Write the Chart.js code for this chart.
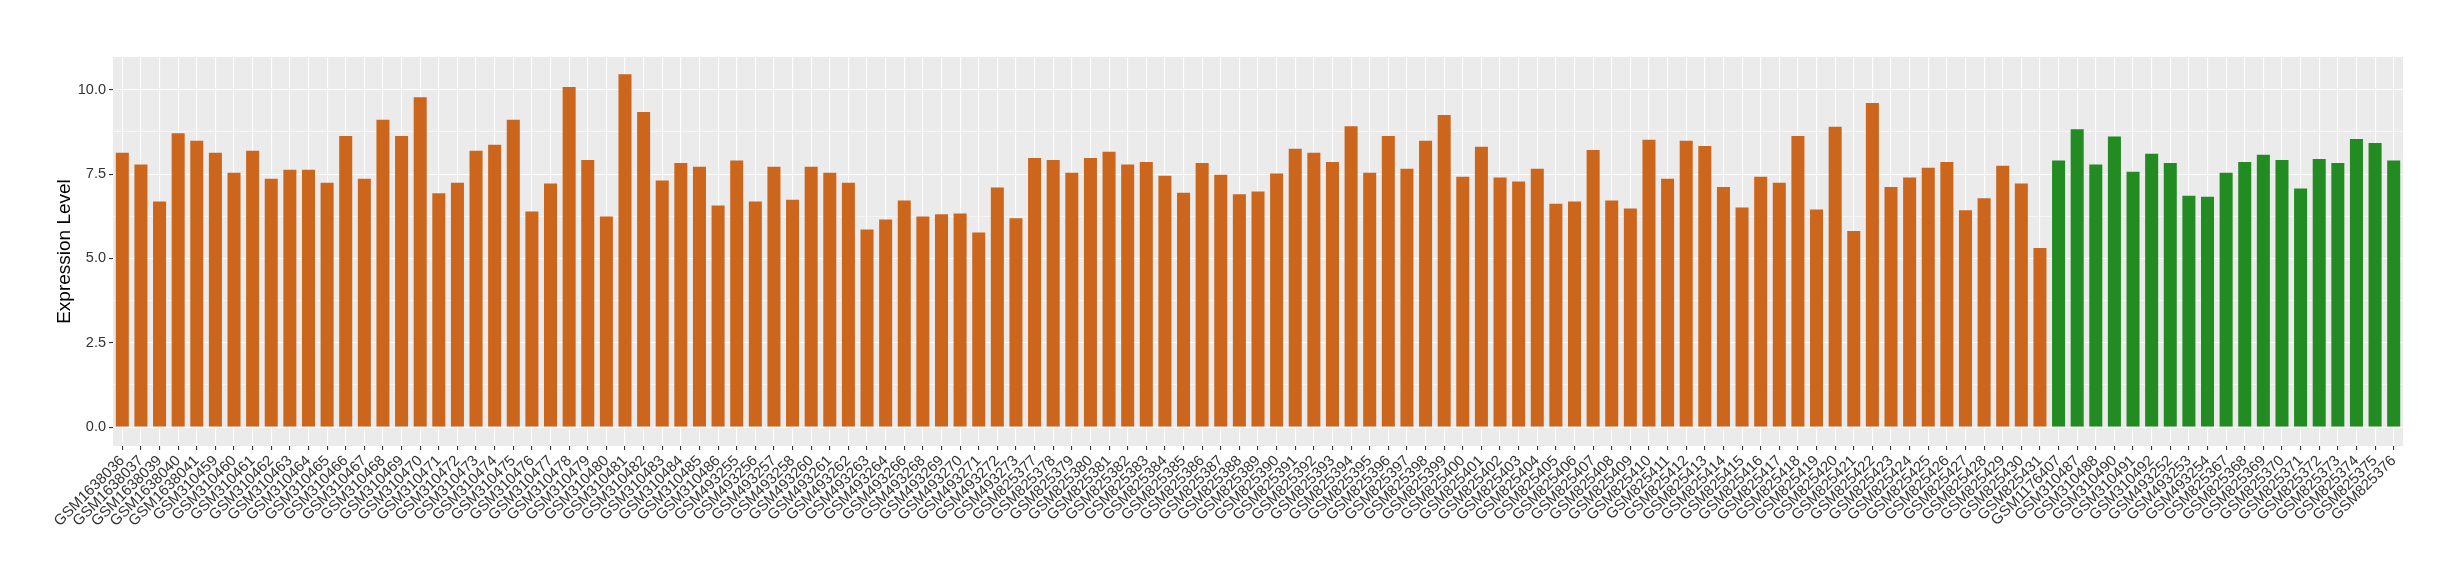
<!DOCTYPE html>
<html>
<head>
<meta charset="utf-8">
<title>Expression Level</title>
<script src="https://cdn.jsdelivr.net/npm/chart.js@4.4.1/dist/chart.umd.min.js"></script>
<style>
  html, body { margin: 0; padding: 0; background: #ffffff; }
</style>
</head>
<body>
<canvas id="chart-bar" width="2460" height="580"></canvas>
<script>
// samples shown in orange (first group)
var orangeSamples = [
  "GSM1638036", "GSM1638037", "GSM1638039", "GSM1638040", "GSM1638041",
  "GSM310459", "GSM310460", "GSM310461", "GSM310462", "GSM310463", "GSM310464", "GSM310465",
  "GSM310466", "GSM310467", "GSM310468", "GSM310469", "GSM310470", "GSM310471", "GSM310472",
  "GSM310473", "GSM310474", "GSM310475", "GSM310476", "GSM310477", "GSM310478", "GSM310479",
  "GSM310480", "GSM310481", "GSM310482", "GSM310483", "GSM310484", "GSM310485", "GSM310486",
  "GSM493255", "GSM493256", "GSM493257", "GSM493258", "GSM493260", "GSM493261", "GSM493262",
  "GSM493263", "GSM493264", "GSM493266", "GSM493268", "GSM493269", "GSM493270", "GSM493271",
  "GSM493272", "GSM493273",
  "GSM825377", "GSM825378", "GSM825379", "GSM825380", "GSM825381", "GSM825382", "GSM825383",
  "GSM825384", "GSM825385", "GSM825386", "GSM825387", "GSM825388", "GSM825389", "GSM825390",
  "GSM825391", "GSM825392", "GSM825393", "GSM825394", "GSM825395", "GSM825396", "GSM825397",
  "GSM825398", "GSM825399", "GSM825400", "GSM825401", "GSM825402", "GSM825403", "GSM825404",
  "GSM825405", "GSM825406", "GSM825407", "GSM825408", "GSM825409", "GSM825410", "GSM825411",
  "GSM825412", "GSM825413", "GSM825414", "GSM825415", "GSM825416", "GSM825417", "GSM825418",
  "GSM825419", "GSM825420", "GSM825421", "GSM825422", "GSM825423", "GSM825424", "GSM825425",
  "GSM825426", "GSM825427", "GSM825428", "GSM825429", "GSM825430", "GSM825431"
];
var orangeValues = [
  8.13, 7.78, 6.69, 8.71, 8.49,
  8.13, 7.54, 8.19, 7.36, 7.63, 7.63, 7.24,
  8.63, 7.36, 9.11, 8.63, 9.78, 6.93, 7.24,
  8.19, 8.37, 9.11, 6.39, 7.22, 10.08, 7.92,
  6.24, 10.46, 9.34, 7.31, 7.83, 7.72, 6.57,
  7.90, 6.69, 7.72, 6.74, 7.72, 7.54, 7.24,
  5.86, 6.15, 6.72, 6.24, 6.31, 6.33, 5.77,
  7.10, 6.19,
  7.98, 7.92, 7.54, 7.98, 8.16, 7.78, 7.86,
  7.45, 6.95, 7.83, 7.48, 6.90, 6.98, 7.52,
  8.25, 8.13, 7.86, 8.92, 7.54, 8.63, 7.66,
  8.49, 9.25, 7.42, 8.31, 7.40, 7.28, 7.66,
  6.62, 6.69, 8.21, 6.72, 6.48, 8.52, 7.36,
  8.49, 8.33, 7.12, 6.51, 7.42, 7.24, 8.63,
  6.45, 8.90, 5.81, 9.61, 7.12, 7.40, 7.69,
  7.86, 6.43, 6.78, 7.75, 7.22, 5.31
];

// samples shown in green (second group)
var greenSamples = [
  "GSM1176407", "GSM310487", "GSM310488", "GSM310490", "GSM310491", "GSM310492",
  "GSM493252", "GSM493253", "GSM493254",
  "GSM825367", "GSM825368", "GSM825369", "GSM825370", "GSM825371", "GSM825372",
  "GSM825373", "GSM825374", "GSM825375", "GSM825376"
];
var greenValues = [
  7.90, 8.83, 7.78, 8.61, 7.57, 8.10,
  7.83, 6.86, 6.83,
  7.54, 7.86, 8.07, 7.92, 7.07, 7.95,
  7.83, 8.54, 8.42, 7.90
];

var yTickLabels = [0, 2.5, 5, 7.5, 10];
var yMinorTicks = [1.25, 3.75, 6.25, 8.75];

var orange = "#CD661D";
var green = "#228B22";
var fontFamily = "'Liberation Sans', Arial, Helvetica, sans-serif";

var labels = orangeSamples.concat(greenSamples);
var values = orangeValues.concat(greenValues);
var colors = orangeSamples.map(function() { return orange; })
  .concat(greenSamples.map(function() { return green; }));

function isMajor(v) {
  return yTickLabels.indexOf(v) !== -1;
}

// grey ggplot-style panel behind the grid
var panelBackground = {
  id: "panelBackground",
  beforeDraw: function(chart) {
    var a = chart.chartArea;
    var c = chart.ctx;
    c.save();
    c.fillStyle = "#EBEBEB";
    c.fillRect(a.left, a.top, a.right - a.left, a.bottom - a.top);
    c.restore();
  }
};

var ctx = document.getElementById("chart-bar");

var myChart = new Chart(ctx, {
  type: "bar",
  data: {
    labels: labels,
    datasets: [{
      data: values,
      backgroundColor: colors,
      borderWidth: 0,
      barPercentage: 0.7,
      categoryPercentage: 1.0
    }]
  },
  options: {
    responsive: false,
    devicePixelRatio: 1,
    animation: false,
    layout: {
      padding: { left: 49, right: 57, top: 57, bottom: 0 }
    },
    plugins: {
      legend: { display: false },
      tooltip: { enabled: false }
    },
    scales: {
      x: {
        offset: true,
        border: { display: false },
        grid: {
          offset: false,
          color: "#FFFFFF",
          lineWidth: 1.1,
          tickColor: "#333333",
          tickWidth: 1.1,
          tickLength: 4
        },
        ticks: {
          autoSkip: false,
          minRotation: 45,
          maxRotation: 45,
          padding: 2,
          color: "#333333",
          font: { family: fontFamily, size: 15 }
        },
        afterFit: function(scale) {
          scale.height = 134;
        }
      },
      y: {
        min: -0.56,
        max: 10.97,
        border: { display: false },
        afterBuildTicks: function(scale) {
          scale.ticks = yTickLabels.concat(yMinorTicks)
            .sort(function(a, b) { return a - b; })
            .map(function(v) { return { value: v }; });
        },
        grid: {
          color: "#FFFFFF",
          lineWidth: function(c) {
            return c.tick && isMajor(c.tick.value) ? 1.1 : 0.55;
          },
          tickColor: function(c) {
            return c.tick && isMajor(c.tick.value) ? "#333333" : "rgba(0,0,0,0)";
          },
          tickWidth: 1.1,
          tickLength: 4
        },
        ticks: {
          padding: 3,
          color: "#333333",
          font: { family: fontFamily, size: 14.5 },
          callback: function(value) {
            return isMajor(value) ? value.toFixed(1) : "";
          }
        },
        title: {
          display: true,
          text: "Expression Level",
          color: "#000000",
          font: { family: fontFamily, size: 19 }
        },
        afterFit: function(scale) {
          scale.width = 64;
        }
      }
    }
  },
  plugins: [panelBackground]
});
</script>
</body>
</html>
